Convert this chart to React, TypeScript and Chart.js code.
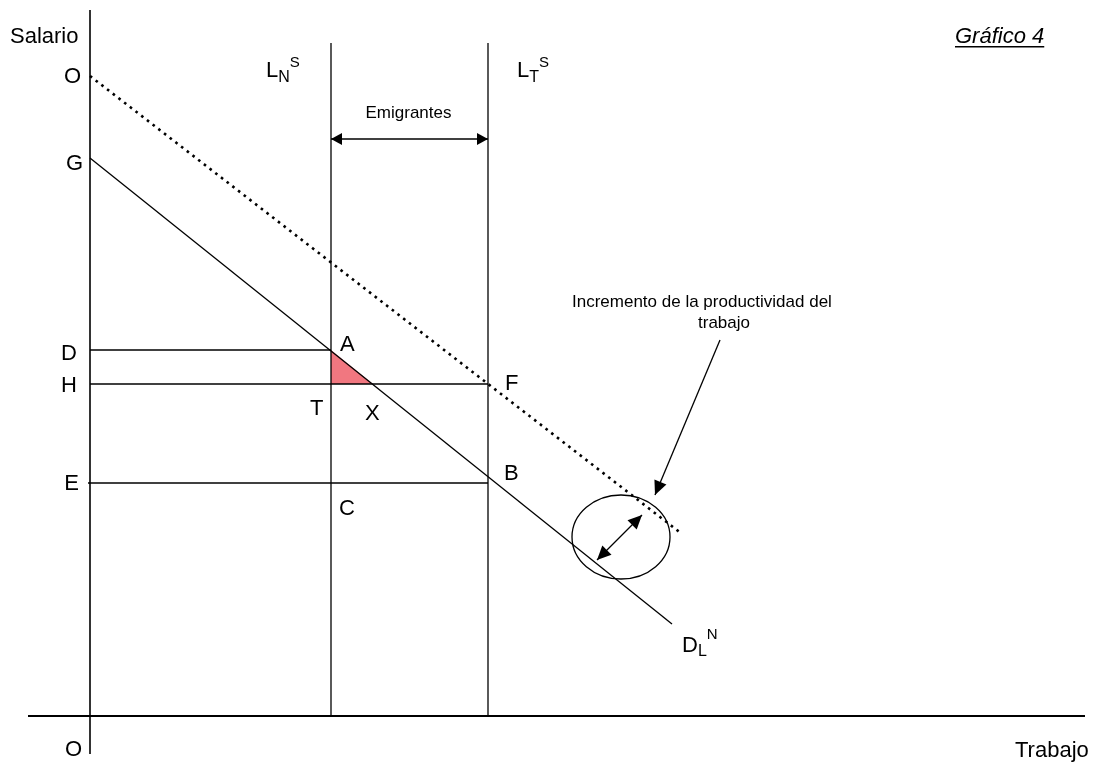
import React, { useEffect, useRef } from "react";
import { Chart, registerables } from "chart.js";

Chart.register(...registerables);

// ---- Scale ranges (data units) ----
const xRange = [-9, 100.9];
const yRange = [-5.5, 71.6];

// ---- Axes extents ----
const yAxisSpan = [-3.8, 70.6];
const xAxisSpan = [-6.2, 99.5];

// ---- Labor supply (vertical lines) ----
const laborNative = 24.1; // L_N^S
const laborTotal = 39.8; // L_T^S
const supplyTop = 67.3;

// ---- Wage levels ----
const wageO = 64.0;
const wageG = 55.8;
const wageD = 36.6;
const wageH = 33.2;
const wageE = 23.3;

// ---- Curves ----
const demandStart = [0, wageG];
const demandEnd = [58.2, 9.2];
const shiftedStart = [0, wageO];
const shiftedEnd = [59.2, 18.2];
const pointX = 28.3; // X

// ---- Arrows ----
const emigrantArrowY = 57.7;
const productivityArrow = [
  [50.7, 15.6],
  [55.2, 20.1],
];
const pointerArrow = [
  [63.0, 37.6],
  [56.5, 22.1],
];

// ---- Ellipse ----
const ellipseCenter = [53.1, 17.9];
const ellipseRadii = [4.9, 4.2];

const FONT = '"Liberation Sans", Arial, sans-serif';
const BIG = 22;
const SMALL = 17;

type Lbl = {
  t: string;
  x: number;
  y: number;
  align?: CanvasTextAlign;
  size?: number;
  italic?: boolean;
  underline?: boolean;
  sub?: string;
  sup?: string;
  subDy?: number;
  supDy?: number;
};

const labels: Lbl[] = [
  { t: "Salario", x: -8.0, y: 67.3 },
  { t: "O", x: -0.9, y: 63.3, align: "right" },
  { t: "G", x: -0.7, y: 54.6, align: "right" },
  { t: "D", x: -1.3, y: 35.6, align: "right" },
  { t: "H", x: -1.3, y: 32.4, align: "right" },
  { t: "E", x: -1.1, y: 22.6, align: "right" },
  { t: "O", x: -2.5, y: -4.0 },
  { t: "Trabajo", x: 92.5, y: -4.1 },
  { t: "A", x: 25.0, y: 36.5 },
  { t: "T", x: 22.0, y: 30.1 },
  { t: "X", x: 27.5, y: 29.6 },
  { t: "F", x: 41.5, y: 32.6 },
  { t: "B", x: 41.4, y: 23.6 },
  { t: "C", x: 24.9, y: 20.1 },
  { t: "Emigrantes", x: 31.85, y: 59.8, align: "center", size: SMALL },
  { t: "Incremento de la productividad del", x: 48.2, y: 40.9, size: SMALL },
  { t: "trabajo", x: 60.8, y: 38.8, size: SMALL },
  { t: "Gráfico 4", x: 86.5, y: 67.3, italic: true, underline: true },
  { t: "L", x: 17.6, y: 63.9, sub: "N", sup: "S", subDy: 5, supDy: -10 },
  { t: "L", x: 42.7, y: 63.9, sub: "T", sup: "S", subDy: 5, supDy: -10 },
  { t: "D", x: 59.2, y: 6.4, sub: "L", sup: "N", subDy: 3.5, supDy: -13.5 },
];

const seg = (a: number[], b: number[]) => [
  { x: a[0], y: a[1] },
  { x: b[0], y: b[1] },
];

const overlay = {
  id: "overlay",
  afterDatasetsDraw(chart: any) {
    const ctx: CanvasRenderingContext2D = chart.ctx;
    const xs = chart.scales.x;
    const ys = chart.scales.y;
    const px = (v: number) => xs.getPixelForValue(v);
    const py = (v: number) => ys.getPixelForValue(v);
    ctx.save();

    // ellipse
    const cx = px(ellipseCenter[0]);
    const cy = py(ellipseCenter[1]);
    const rx = Math.abs(px(ellipseCenter[0] + ellipseRadii[0]) - cx);
    const ry = Math.abs(py(ellipseCenter[1] + ellipseRadii[1]) - cy);
    ctx.beginPath();
    ctx.ellipse(cx, cy, rx, ry, 0, 0, Math.PI * 2);
    ctx.strokeStyle = "#000";
    ctx.lineWidth = 1.3;
    ctx.stroke();

    // arrow heads
    const head = (from: number[], to: number[], len: number, half: number) => {
      const x1 = px(from[0]), y1 = py(from[1]);
      const x2 = px(to[0]), y2 = py(to[1]);
      const a = Math.atan2(y2 - y1, x2 - x1);
      ctx.beginPath();
      ctx.moveTo(x2, y2);
      ctx.lineTo(x2 - len * Math.cos(a) + half * Math.sin(a), y2 - len * Math.sin(a) - half * Math.cos(a));
      ctx.lineTo(x2 - len * Math.cos(a) - half * Math.sin(a), y2 - len * Math.sin(a) + half * Math.cos(a));
      ctx.closePath();
      ctx.fillStyle = "#000";
      ctx.fill();
    };
    const eA = [laborNative, emigrantArrowY];
    const eB = [laborTotal, emigrantArrowY];
    head(eA, eB, 11, 6);
    head(eB, eA, 11, 6);
    head(productivityArrow[0], productivityArrow[1], 14, 6.5);
    head(productivityArrow[1], productivityArrow[0], 14, 6.5);
    head(pointerArrow[0], pointerArrow[1], 14, 6.5);

    // labels
    ctx.fillStyle = "#000";
    ctx.textBaseline = "alphabetic";
    for (const l of labels) {
      const size = l.size ?? BIG;
      ctx.font = `${l.italic ? "italic " : ""}${size}px ${FONT}`;
      ctx.textAlign = l.align ?? "left";
      const x = px(l.x);
      const y = py(l.y);
      ctx.fillText(l.t, x, y);
      const w = ctx.measureText(l.t).width;
      if (l.underline) {
        ctx.beginPath();
        ctx.moveTo(x, y + 3.7);
        ctx.lineTo(x + w, y + 3.7);
        ctx.lineWidth = 1.6;
        ctx.strokeStyle = "#000";
        ctx.stroke();
      }
      if (l.sub) {
        ctx.textAlign = "left";
        ctx.font = `16px ${FONT}`;
        ctx.fillText(l.sub, x + w, y + (l.subDy ?? 5));
        const sw = ctx.measureText(l.sub).width;
        if (l.sup) {
          ctx.font = `15px ${FONT}`;
          ctx.fillText(l.sup, x + w + sw, y + (l.supDy ?? -10));
        }
      }
    }
    ctx.restore();
  },
};

export default function App() {
  const ref = useRef<HTMLCanvasElement | null>(null);
  useEffect(() => {
    if (!ref.current) return;
    const thin = { borderColor: "#000", borderWidth: 1.3, pointRadius: 0, showLine: true, fill: false, tension: 0 };
    const chart = new Chart(ref.current, {
      type: "scatter",
      data: {
        datasets: [
          { ...thin, borderWidth: 1.6, data: seg([0, yAxisSpan[0]], [0, yAxisSpan[1]]) },
          { ...thin, borderWidth: 2, data: seg([xAxisSpan[0], 0], [xAxisSpan[1], 0]) },
          { ...thin, data: seg([laborNative, 0], [laborNative, supplyTop]) },
          { ...thin, data: seg([laborTotal, 0], [laborTotal, supplyTop]) },
          { ...thin, data: seg([0, wageD], [laborNative, wageD]) },
          { ...thin, data: seg([0, wageH], [laborTotal, wageH]) },
          { ...thin, data: seg([-0.2, wageE], [laborTotal, wageE]) },
          { ...thin, data: seg(demandStart, demandEnd) },
          {
            ...thin,
            borderWidth: 2.6,
            borderDash: [2.6, 4.6],
            borderCapStyle: "butt",
            data: seg(shiftedStart, shiftedEnd),
          },
          { ...thin, data: seg([laborNative, emigrantArrowY], [laborTotal, emigrantArrowY]) },
          { ...thin, data: seg(productivityArrow[0], productivityArrow[1]) },
          { ...thin, data: seg(pointerArrow[0], pointerArrow[1]) },
          {
            ...thin,
            order: 5,
            borderWidth: 0,
            backgroundColor: "rgba(240,104,114,0.9)",
            fill: { value: wageH },
            data: seg([laborNative, wageD], [pointX, wageH]),
          },
        ] as any,
      },
      options: {
        animation: false,
        responsive: true,
        maintainAspectRatio: false,
        devicePixelRatio: 1,
        events: [],
        layout: { padding: 0 },
        plugins: { legend: { display: false }, tooltip: { enabled: false } },
        scales: {
          x: { type: "linear", min: xRange[0], max: xRange[1], display: false },
          y: { type: "linear", min: yRange[0], max: yRange[1], display: false },
        },
      },
      plugins: [overlay],
    });
    return () => chart.destroy();
  }, []);
  return (
    <div style={{ position: "fixed", left: 0, top: 0, width: 1099, height: 771, background: "#fff" }}>
      <canvas ref={ref} />
    </div>
  );
}
